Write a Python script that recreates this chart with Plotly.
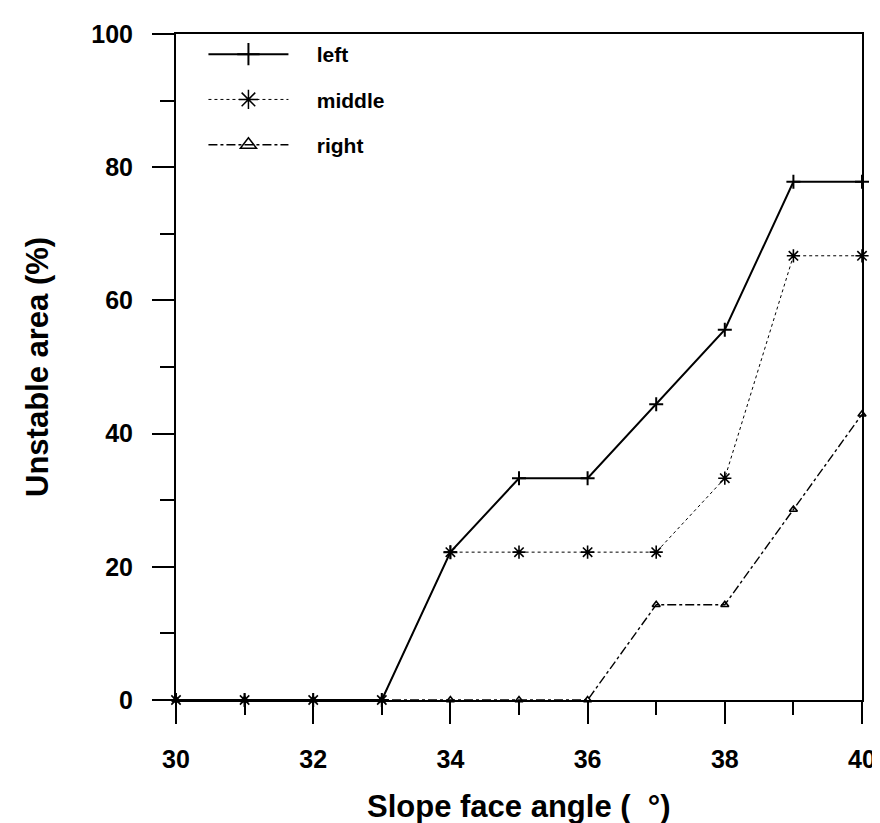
import plotly.graph_objects as go

angles = [30, 31, 32, 33, 34, 35, 36, 37, 38, 39, 40]
left = [0, 0, 0, 0, 22.2, 33.3, 33.3, 44.4, 55.6, 77.8, 77.8]
middle = [0, 0, 0, 0, 22.2, 22.2, 22.2, 22.2, 33.3, 66.7, 66.7]
right = [0, 0, 0, 0, 0, 0, 0, 14.3, 14.3, 28.6, 42.9]

x_ticks = [30, 32, 34, 36, 38, 40]
y_ticks = [0, 20, 40, 60, 80, 100]

FONT = "Liberation Sans"
fig = go.Figure()

styles = {
    "left": dict(line=dict(color="black", width=2, dash="solid"),
                 marker=dict(symbol="cross-thin-open", size=10, line=dict(color="black", width=2))),
    "middle": dict(line=dict(color="black", width=1, dash="dot"),
                   marker=dict(symbol="asterisk-open", size=11, line=dict(color="black", width=1.6))),
    "right": dict(line=dict(color="black", width=1.4, dash="dashdot"),
                  marker=dict(symbol="triangle-up-open", size=7, color="black", line=dict(color="black", width=1.6))),
}
legend_markers = {
    "left": dict(symbol="cross-thin-open", size=16, line=dict(color="black", width=2)),
    "middle": dict(symbol="asterisk-open", size=16, line=dict(color="black", width=1.5)),
    "right": dict(symbol="triangle-up-open", size=14, color="black", line=dict(color="black", width=1.5)),
}

for name, vals in [("right", right), ("left", left), ("middle", middle)]:
    fig.add_trace(go.Scatter(x=angles, y=vals, mode="lines+markers", name=name,
                             showlegend=False, cliponaxis=False, **styles[name]))

NBSP = "\u00a0"
for i, name in enumerate(["left", "middle", "right"]):
    fig.add_trace(go.Scatter(x=[None], y=[None], mode="lines+markers", name=NBSP * 4 + name,
                             legendgroup=name, legendrank=i,
                             line=styles[name]["line"], marker=legend_markers[name]))

axis_common = dict(showgrid=False, zeroline=False, showline=True, linecolor="black",
                   linewidth=2, mirror=True, ticks="outside", tickcolor="black",
                   tickwidth=2, ticklen=22,
                   tickfont=dict(family=FONT, size=25, color="black", weight="bold"))

fig.update_xaxes(range=[30, 40], tickvals=x_ticks, ticktext=[str(v) for v in x_ticks],
                 minor=dict(dtick=1, ticks="outside", ticklen=13, tickwidth=2, tickcolor="black"),
                 ticklabelstandoff=14, **axis_common)
fig.update_yaxes(range=[0, 100], tickvals=y_ticks, ticktext=[str(v) for v in y_ticks],
                 minor=dict(dtick=10, ticks="outside", ticklen=14, tickwidth=2, tickcolor="black"),
                 ticklabelstandoff=14, **axis_common)

fig.update_layout(
    width=880, height=823,
    margin=dict(l=168, r=20, t=17, b=131),
    plot_bgcolor="white", paper_bgcolor="white",
    legend=dict(x=0.04, y=1.0, xanchor="left", yanchor="top",
                font=dict(family=FONT, size=21, color="black", weight="bold"),
                tracegroupgap=15, itemwidth=80, bgcolor="rgba(0,0,0,0)"),
    annotations=[
        dict(text="Slope face angle (  °)", xref="paper", yref="paper", x=0.5, y=0,
             xanchor="center", yanchor="middle", yshift=-106, showarrow=False,
             font=dict(family=FONT, size=31, color="black", weight="bold")),
        dict(text="Unstable area (%)", xref="paper", yref="paper", x=0, y=0.5,
             xanchor="center", yanchor="middle", xshift=-139, textangle=-90, showarrow=False,
             font=dict(family=FONT, size=31, color="black", weight="bold")),
    ],
)

fig.write_html("out.html")
